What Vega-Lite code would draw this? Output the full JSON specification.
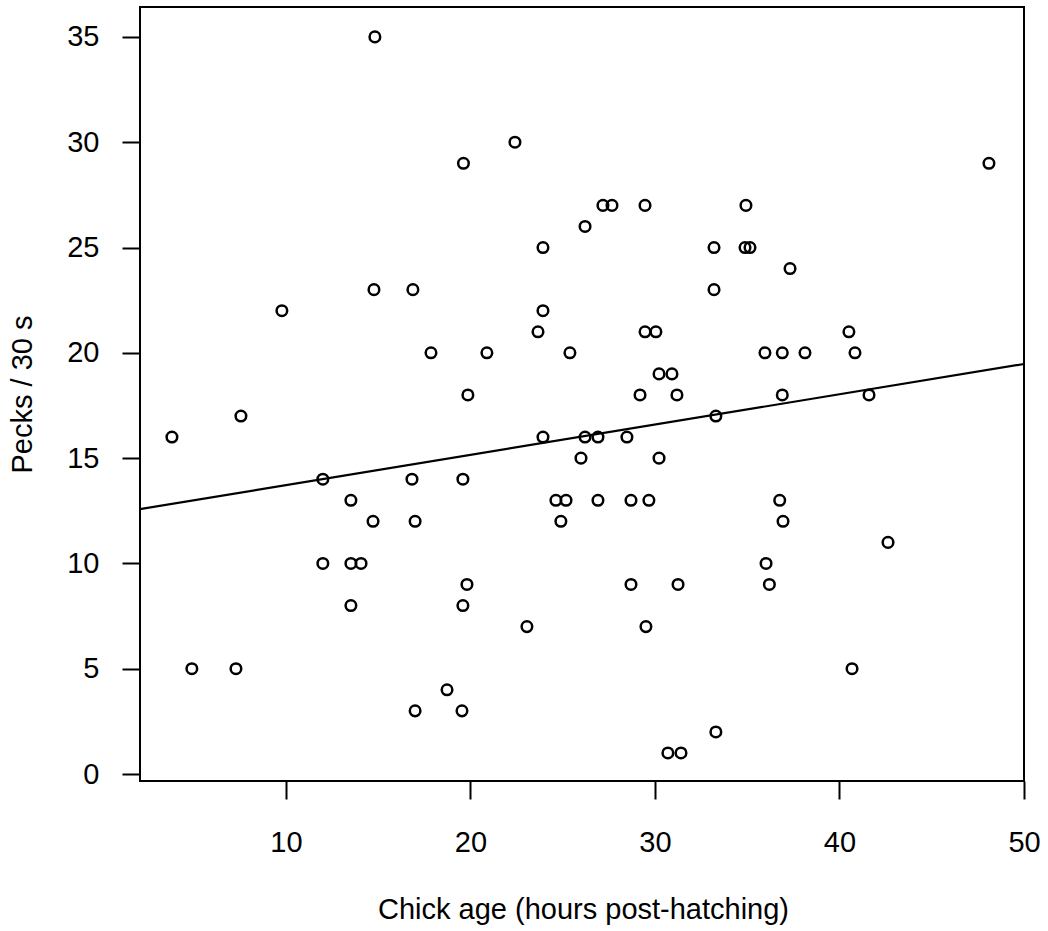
{
  "$schema": "https://vega.github.io/schema/vega-lite/v6.json",
  "width": 884,
  "height": 774,
  "autosize": {"type": "none"},
  "padding": {"left": 140, "top": 7, "right": 24, "bottom": 150},
  "background": "white",
  "config": {
    "font": "Liberation Sans",
    "view": {"stroke": "black", "strokeWidth": 2},
    "axis": {
      "domain": false,
      "grid": false,
      "ticks": true,
      "tickColor": "black",
      "tickWidth": 2,
      "tickSize": 18,
      "labelColor": "black",
      "labelFont": "Liberation Sans",
      "labelFontSize": 29,
      "titleColor": "black",
      "titleFont": "Liberation Sans",
      "titleFontSize": 29,
      "titleFontWeight": "normal",
      "labelFlush": false,
      "labelOverlap": false
    }
  },
  "datasets": {
    "chicks": [
      {"age": 3.82, "pecks": 16},
      {"age": 4.9, "pecks": 5},
      {"age": 7.29, "pecks": 5},
      {"age": 7.56, "pecks": 17},
      {"age": 9.78, "pecks": 22},
      {"age": 12.0, "pecks": 14},
      {"age": 12.0, "pecks": 10},
      {"age": 13.52, "pecks": 13},
      {"age": 13.52, "pecks": 10},
      {"age": 14.07, "pecks": 10},
      {"age": 13.52, "pecks": 8},
      {"age": 14.82, "pecks": 35},
      {"age": 14.77, "pecks": 23},
      {"age": 14.72, "pecks": 12},
      {"age": 16.88, "pecks": 23},
      {"age": 16.83, "pecks": 14},
      {"age": 17.0, "pecks": 12},
      {"age": 17.0, "pecks": 3},
      {"age": 17.86, "pecks": 20},
      {"age": 18.73, "pecks": 4},
      {"age": 19.62, "pecks": 29},
      {"age": 19.59, "pecks": 14},
      {"age": 19.59, "pecks": 8},
      {"age": 19.54, "pecks": 3},
      {"age": 19.86, "pecks": 18},
      {"age": 19.81, "pecks": 9},
      {"age": 20.89, "pecks": 20},
      {"age": 22.41, "pecks": 30},
      {"age": 23.06, "pecks": 7},
      {"age": 23.66, "pecks": 21},
      {"age": 23.93, "pecks": 22},
      {"age": 23.93, "pecks": 25},
      {"age": 23.93, "pecks": 16},
      {"age": 24.63, "pecks": 13},
      {"age": 24.9, "pecks": 12},
      {"age": 25.18, "pecks": 13},
      {"age": 25.39, "pecks": 20},
      {"age": 25.99, "pecks": 15},
      {"age": 26.21, "pecks": 26},
      {"age": 26.21, "pecks": 16},
      {"age": 26.91, "pecks": 16},
      {"age": 26.91, "pecks": 13},
      {"age": 27.18, "pecks": 27},
      {"age": 27.67, "pecks": 27},
      {"age": 28.48, "pecks": 16},
      {"age": 28.7, "pecks": 13},
      {"age": 28.7, "pecks": 9},
      {"age": 29.19, "pecks": 18},
      {"age": 29.46, "pecks": 27},
      {"age": 29.46, "pecks": 21},
      {"age": 29.51, "pecks": 7},
      {"age": 29.67, "pecks": 13},
      {"age": 30.05, "pecks": 21},
      {"age": 30.22, "pecks": 19},
      {"age": 30.22, "pecks": 15},
      {"age": 30.7, "pecks": 1},
      {"age": 30.92, "pecks": 19},
      {"age": 31.19, "pecks": 18},
      {"age": 31.25, "pecks": 9},
      {"age": 31.41, "pecks": 1},
      {"age": 33.2, "pecks": 25},
      {"age": 33.2, "pecks": 23},
      {"age": 33.3, "pecks": 17},
      {"age": 33.3, "pecks": 2},
      {"age": 34.93, "pecks": 27},
      {"age": 34.88, "pecks": 25},
      {"age": 35.15, "pecks": 25},
      {"age": 35.96, "pecks": 20},
      {"age": 36.02, "pecks": 10},
      {"age": 36.2, "pecks": 9},
      {"age": 36.76, "pecks": 13},
      {"age": 36.9, "pecks": 20},
      {"age": 36.9, "pecks": 18},
      {"age": 36.94, "pecks": 12},
      {"age": 37.32, "pecks": 24},
      {"age": 38.13, "pecks": 20},
      {"age": 40.51, "pecks": 21},
      {"age": 40.68, "pecks": 5},
      {"age": 40.84, "pecks": 20},
      {"age": 41.6, "pecks": 18},
      {"age": 42.63, "pecks": 11},
      {"age": 48.1, "pecks": 29}
    ],
    "fit": [
      {"age": 2.09, "pecks": 12.58},
      {"age": 50, "pecks": 19.47}
    ]
  },
  "encoding": {
    "x": {
      "field": "age",
      "type": "quantitative",
      "scale": {"domain": [2.09, 50], "nice": false, "zero": false},
      "axis": {
        "values": [10, 20, 30, 40, 50],
        "labelPadding": 29,
        "title": "Chick age (hours post-hatching)",
        "titleX": 443,
        "titleY": 137,
        "titleAnchor": null,
        "titleAlign": "center",
        "titleBaseline": "alphabetic"
      }
    },
    "y": {
      "field": "pecks",
      "type": "quantitative",
      "scale": {"domain": [-0.33, 36.42], "nice": false, "zero": false},
      "axis": {
        "values": [0, 5, 10, 15, 20, 25, 30, 35],
        "labelPadding": 23,
        "labelAngle": 0,
        "title": "Pecks / 30 s",
        "titleX": -109,
        "titleY": 387,
        "titleAngle": 270,
        "titleAlign": "center",
        "titleBaseline": "alphabetic"
      }
    }
  },
  "layer": [
    {
      "data": {"name": "chicks"},
      "mark": {
        "type": "point",
        "shape": "circle",
        "filled": false,
        "size": 112,
        "stroke": "black",
        "strokeWidth": 2.5,
        "opacity": 1
      }
    },
    {
      "data": {"name": "fit"},
      "mark": {"type": "line", "color": "black", "strokeWidth": 2.2}
    }
  ]
}
